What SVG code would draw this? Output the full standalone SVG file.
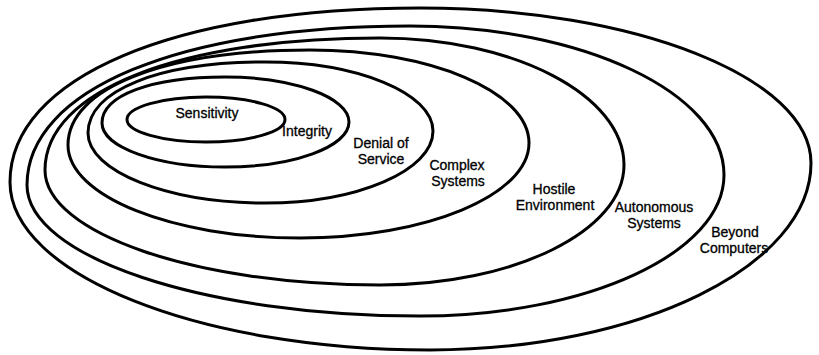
<svg xmlns="http://www.w3.org/2000/svg" width="819" height="355" viewBox="0 0 819 355">
  <style>
    .ring { fill: none; stroke: #000; stroke-width: 3; }
    .lbl { font-family: "Liberation Sans", Arial, sans-serif; font-size: 14px; fill: #000; stroke: #000; stroke-width: 0.3; text-anchor: middle; }
  </style>
  <rect width="819" height="355" fill="#fff"/>

  <!-- nested concern levels, outermost first -->
  <g id="beyond-computers">
    <path class="ring" d="M10,182 C10,77.6 174,8 420,8 C635,8 811,77.8 811,163 C811,265.9 639.6,350 430,350 C199,350 10,274.4 10,182 Z"/>
    <text class="lbl" x="735" y="237">Beyond</text>
    <text class="lbl" x="734" y="253">Computers</text>
  </g>

  <g id="autonomous-systems">
    <path class="ring" d="M27,185 C27,89.6 180.2,26 410,26 C582.7,26 724,93 724,175 C724,252.6 587.2,316 420,316 C203.9,316 27,257 27,185 Z"/>
    <text class="lbl" x="654" y="212">Autonomous</text>
    <text class="lbl" x="654" y="228">Systems</text>
  </g>

  <g id="hostile-environment">
    <path class="ring" d="M45,170 C45,90.8 179,38 380,38 C514.2,38 624,95.2 624,165 C624,231 514.2,285 380,285 C195.8,285 45,233.3 45,170 Z"/>
    <text class="lbl" x="554" y="194">Hostile</text>
    <text class="lbl" x="555" y="210">Environment</text>
  </g>

  <g id="complex-systems">
    <path class="ring" d="M68,145 C68,88 164.8,50 310,50 C430.5,50 529,91.9 529,143 C529,195.3 426,238 300,238 C172.4,238 68,196.2 68,145 Z"/>
    <text class="lbl" x="457" y="170">Complex</text>
    <text class="lbl" x="458" y="186">Systems</text>
  </g>

  <g id="denial-of-service">
    <path class="ring" d="M88,133 C88,90.4 158.8,62 265,62 C357.4,62 433,93.1 433,131 C433,170.6 357.4,203 265,203 C167.7,203 88,171.5 88,133 Z"/>
    <text class="lbl" x="381" y="148">Denial of</text>
    <text class="lbl" x="381" y="164">Service</text>
  </g>

  <g id="integrity">
    <path class="ring" d="M102,123 C102,95.4 151.2,77 225,77 C293.2,77 349,97.3 349,122 C349,146.8 293.2,167 225,167 C157.4,167 102,147.2 102,123 Z"/>
    <text class="lbl" x="307" y="136">Integrity</text>
  </g>

  <g id="sensitivity">
    <ellipse class="ring" cx="206" cy="119.5" rx="79" ry="22.5"/>
    <text class="lbl" x="207" y="118">Sensitivity</text>
  </g>
</svg>
